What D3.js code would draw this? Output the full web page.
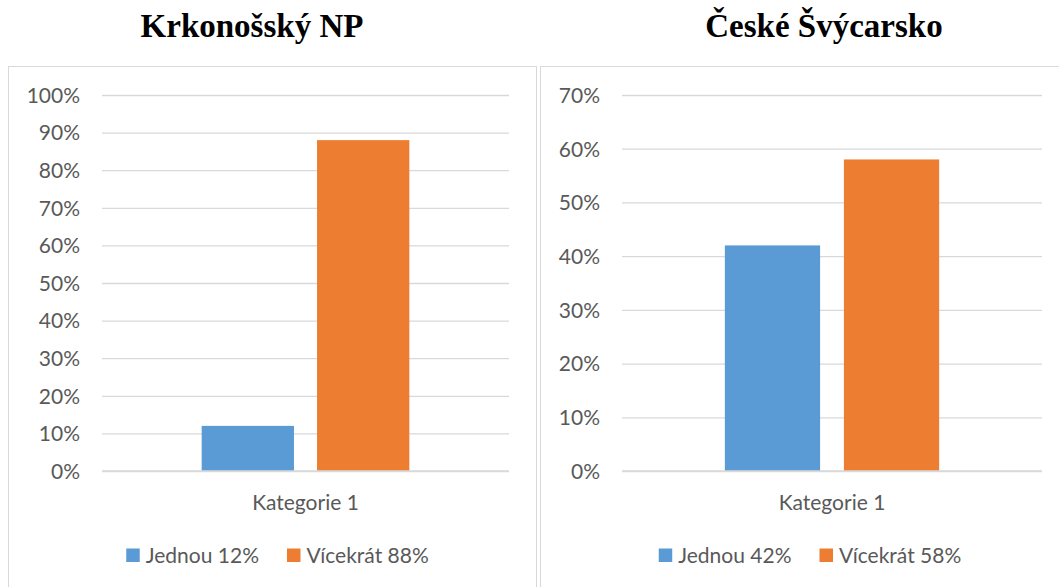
<!DOCTYPE html>
<html>
<head>
<meta charset="utf-8">
<script src="https://cdn.jsdelivr.net/npm/d3@7"></script>
<style>
  html, body { margin: 0; padding: 0; background: #fff; }
  svg { display: block; }
</style>
</head>
<body>
<svg id="chart" width="1059" height="587"></svg>
<script>
// ---- data ----
const titles = ["Krkonošský NP", "České Švýcarsko"];
const categories = ["Kategorie 1"];
const seriesNames = ["Jednou", "Vícekrát"];
const valuesKrkonose = [0.12, 0.88];
const valuesCeskeSvycarsko = [0.42, 0.58];
const yMaxKrkonose = 1.0;
const yMaxCeskeSvycarsko = 0.7;
const tickStep = 0.1;
const colors = ["#5B9BD5", "#ED7D31"];

// ---- layout ----
const panels = [
  { title: titles[0], values: valuesKrkonose, yMax: yMaxKrkonose,
    frame: [8.5, 66.5, 528, 540], plotX: [102, 509], titleX: 252, legendCx: 277.5 },
  { title: titles[1], values: valuesCeskeSvycarsko, yMax: yMaxCeskeSvycarsko,
    frame: [540.5, 66.5, 540, 540], plotX: [622, 1042], titleX: 824, legendCx: 810 }
];
const plotY = [471, 95];
const font = "Lato, 'Open Sans', sans-serif";
const fontSize = 21;
const textColor = "#595959";
const gridColor = "#D9D9D9";

const svg = d3.select("#chart");

panels.forEach(p => {
  const g = svg.append("g");
  g.append("rect")
    .attr("x", p.frame[0]).attr("y", p.frame[1])
    .attr("width", p.frame[2]).attr("height", p.frame[3])
    .attr("fill", "none").attr("stroke", gridColor).attr("stroke-width", 1);

  g.append("text")
    .attr("x", p.titleX).attr("y", 37)
    .attr("text-anchor", "middle")
    .attr("font-family", "'Liberation Serif', 'Times New Roman', serif")
    .attr("font-weight", "bold")
    .attr("font-size", 33)
    .attr("fill", "#000")
    .text(p.title);

  const y = d3.scaleLinear().domain([0, p.yMax]).range(plotY);
  const x0 = d3.scaleBand().domain(categories).range(p.plotX)
    .paddingInner(0).paddingOuter(0.48);
  const x1 = d3.scaleBand().domain(seriesNames).range([0, x0.bandwidth()])
    .paddingInner(0.2).paddingOuter(0);

  const ticks = d3.range(0, Math.round(p.yMax / tickStep) + 1).map(i => i * tickStep);

  const yAxis = d3.axisLeft(y).tickValues(ticks)
    .tickSize(-(p.plotX[1] - p.plotX[0]))
    .tickPadding(22)
    .tickFormat(d3.format(".0%"));
  const ax = g.append("g")
    .attr("transform", `translate(${p.plotX[0]},0)`)
    .call(yAxis);
  ax.select(".domain").remove();
  ax.selectAll(".tick line").attr("stroke", gridColor).attr("stroke-width", 1.3);
  ax.selectAll(".tick text")
    .attr("font-family", font).attr("font-size", fontSize)
    .attr("fill", textColor).attr("dy", "0.35em");

  // bars
  const cat = g.append("g");
  categories.forEach((c) => {
    const cg = cat.append("g").attr("transform", `translate(${x0(c)},0)`);
    cg.selectAll("rect")
      .data(seriesNames.map((s, si) => ({ s, v: p.values[si], color: colors[si] })))
      .join("rect")
      .attr("x", d => x1(d.s))
      .attr("width", x1.bandwidth())
      .attr("y", d => y(d.v))
      .attr("height", d => y(0) - y(d.v))
      .attr("fill", d => d.color);
    g.append("text")
      .attr("x", x0(c) + x0.bandwidth() / 2)
      .attr("y", 509.5)
      .attr("text-anchor", "middle")
      .attr("font-family", font).attr("font-size", fontSize)
      .attr("fill", textColor)
      .text(c);
  });

  g.append("line")
    .attr("x1", p.plotX[0]).attr("x2", p.plotX[1])
    .attr("y1", y(0)).attr("y2", y(0))
    .attr("stroke", gridColor).attr("stroke-width", 1.3);

  // legend
  const lg = g.append("g");
  const items = seriesNames.map((s, si) => `${s} ${Math.round(p.values[si] * 100)}%`);
  const sq = 13.5, gapSqText = 6, gapItems = 28;
  let cx = 0;
  const positions = [];
  items.forEach((t, i) => {
    const tx = lg.append("text")
      .attr("font-family", font).attr("font-size", fontSize)
      .attr("fill", textColor)
      .attr("y", 563)
      .text(t);
    const w = tx.node().getComputedTextLength();
    positions.push({ tx, x: cx, w, i });
    cx += sq + gapSqText + w + (i < items.length - 1 ? gapItems : 0);
  });
  const start = p.legendCx - cx / 2;
  positions.forEach(pp => {
    lg.append("rect")
      .attr("x", start + pp.x).attr("y", 548.5)
      .attr("width", sq).attr("height", sq)
      .attr("fill", colors[pp.i]);
    pp.tx.attr("x", start + pp.x + sq + gapSqText);
  });
});
</script>
</body>
</html>
